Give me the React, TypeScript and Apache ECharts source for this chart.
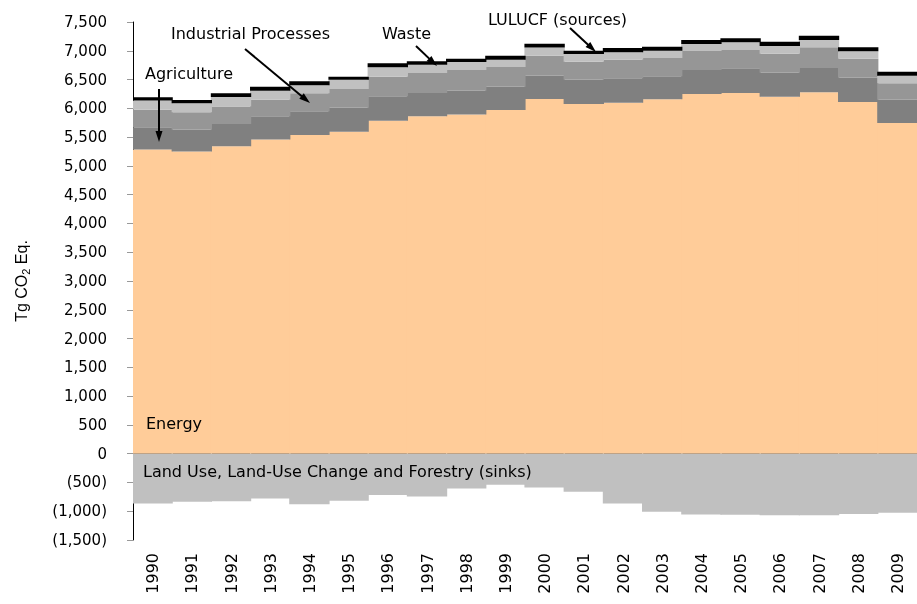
import React, { useEffect, useRef } from "react";
import * as echarts from "echarts";

const years = ["1990","1991","1992","1993","1994","1995","1996","1997","1998","1999","2000","2001","2002","2003","2004","2005","2006","2007","2008","2009"];
const energy = [5283,5248,5342,5457,5538,5595,5786,5863,5891,5972,6163,6076,6099,6158,6250,6267,6203,6280,6111,5747];
const agriculture = [389,382,387,406,412,417,424,404,416,405,405,422,424,399,417,429,417,421,422,404];
const industrial = [305,302,301,288,312,325,340,348,360,342,347,313,322,318,330,318,330,360,330,285];
const waste = [157,157,168,156,139,161,164,144,139,126,142,133,129,127,121,134,133,127,128,132];
const luSources = [59,57,64,70,69,52,69,59,57,70,65,58,75,69,70,69,75,74,70,69];
const luSinks = [-865,-836,-825,-778,-877,-819,-720,-743,-604,-541,-587,-663,-865,-1010,-1056,-1062,-1068,-1068,-1050,-1028];
const yTicks = { min: -1500, max: 7500, step: 500 };

const FONT = "DejaVu Sans";

function arrow(x1: number, y1: number, x2: number, y2: number) {
  const dx = x2 - x1, dy = y2 - y1;
  const len = Math.sqrt(dx * dx + dy * dy);
  const ux = dx / len, uy = dy / len;
  const px = -uy, py = ux;
  const L = 11, W = 3.5;
  const bx = x2 - ux * L, by = y2 - uy * L;
  return [
    { type: "line", shape: { x1, y1, x2: x2 - ux * 6, y2: y2 - uy * 6 }, style: { stroke: "#000", lineWidth: 2 }, z: 100 },
    { type: "polygon", shape: { points: [[x2, y2], [bx + px * W, by + py * W], [bx - px * W, by - py * W]] }, style: { fill: "#000" }, z: 100 },
  ];
}

function label(text: string, x: number, y: number) {
  return { type: "text", x, y, z: 100, style: { text, fill: "#000", fontSize: 16, fontFamily: FONT, align: "left", verticalAlign: "middle" } };
}

function fmt(v: number) {
  const s = Math.abs(v).toLocaleString("en-US");
  return v < 0 ? `(${s})` : s;
}

export default function App() {
  const ref = useRef<HTMLDivElement>(null);
  useEffect(() => {
    if (!ref.current) return;
    const chart = echarts.init(ref.current, undefined, { renderer: "svg" });
    const mk = (name: string, data: number[], color: string) => ({
      name, type: "bar", stack: "total", data, barWidth: "103%",
      itemStyle: { color }, emphasis: { disabled: true }, silent: true,
    });
    chart.setOption({
      animation: false,
      grid: { left: 133, right: -9, top: 22, bottom: 64, containLabel: false },
      xAxis: [
        {
          type: "category", data: years, position: "bottom", boundaryGap: true,
          axisLine: { show: false, onZero: false }, axisTick: { show: false },
          axisLabel: { rotate: 90, fontSize: 16, fontFamily: FONT, color: "#000", margin: 13, interval: 0 },
        },
        {
          type: "category", data: years, position: "bottom", boundaryGap: true,
          axisLine: { show: true, onZero: true, lineStyle: { color: "#000", width: 1 } },
          axisTick: { show: true, length: 5, lineStyle: { color: "#777" } },
          axisLabel: { show: false }, splitLine: { show: false },
        },
      ],
      yAxis: {
        type: "value", min: yTicks.min, max: yTicks.max, interval: yTicks.step,
        name: "{a|Tg CO}{s|2}{a| Eq.}", nameLocation: "middle", nameGap: 102, nameRotate: 90,
        nameTextStyle: {
          color: "#000",
          rich: {
            a: { fontSize: 16, fontFamily: "Liberation Sans", lineHeight: 20, color: "#000" },
            s: { fontSize: 11, fontFamily: "Liberation Sans", lineHeight: 10, verticalAlign: "bottom", color: "#000" },
          },
        },
        axisLine: { show: true, lineStyle: { color: "#000", width: 1 } },
        axisTick: { show: true, length: 6, lineStyle: { color: "#999" } },
        axisLabel: { formatter: fmt, fontSize: 15, fontFamily: FONT, color: "#000", margin: 26 },
        splitLine: { show: false },
      },
      series: [
        mk("Energy", energy, "#FFCC99"),
        mk("Agriculture", agriculture, "#808080"),
        mk("Industrial Processes", industrial, "#969696"),
        mk("Waste", waste, "#C0C0C0"),
        mk("LULUCF (sources)", luSources, "#000000"),
        mk("Land Use, Land-Use Change and Forestry (sinks)", luSinks, "#C0C0C0"),
      ],
      graphic: [
        label("Agriculture", 145, 73),
        ...arrow(159, 89, 159, 142),
        label("Industrial Processes", 171, 33),
        ...arrow(245, 49, 310, 103),
        label("Waste", 382, 33),
        ...arrow(416, 46, 437, 66),
        label("LULUCF (sources)", 488, 19),
        ...arrow(570, 28, 596, 52),
        label("Energy", 146, 423),
        label("Land Use, Land-Use Change and Forestry (sinks)", 143, 471),
      ],
    });
    return () => chart.dispose();
  }, []);
  return <div ref={ref} style={{ position: "fixed", left: 0, top: 0, width: 917, height: 604 }} />;
}
